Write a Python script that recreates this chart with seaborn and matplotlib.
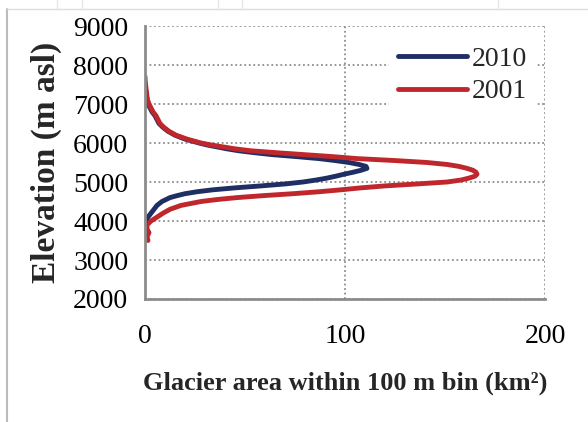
import matplotlib
matplotlib.use("Agg")
import matplotlib.pyplot as plt
import matplotlib.lines as mlines
import seaborn as sns
import pandas as pd

# --- data: glacier area (km2) per elevation bin ---
elev_2010 = [3900, 4000, 4100, 4200, 4300, 4400, 4500, 4600, 4650, 4700,
             4750, 4800, 4850, 4900, 4950, 5000, 5050, 5100, 5150, 5200,
             5250, 5300, 5350, 5400, 5450, 5500, 5550, 5600, 5650, 5700,
             5750, 5800, 5850, 5900, 5950, 6000, 6100, 6200, 6300, 6400,
             6500, 6600, 6700, 6800, 6900, 7000, 7100, 7200, 7300]
area_2010 = [0, 0.5, 1.5, 3, 4.5, 6, 8.5, 12.5, 16, 20,
             26, 34, 45, 58, 70, 79, 85.5, 91, 95.5, 99.5,
             104, 108, 111, 110.5, 107, 102, 95, 87, 76, 64,
             55, 47, 41, 36, 31, 27, 20, 15, 11.5, 9,
             7, 6, 5, 3.5, 2.5, 1.5, 1, 0.5, 0]

elev_2001 = [3500, 3600, 3700, 3800, 3900, 4000, 4100, 4200, 4300, 4400,
             4500, 4550, 4600, 4650, 4700, 4750, 4800, 4850, 4900, 4950,
             5000, 5050, 5100, 5150, 5200, 5250, 5300, 5350, 5400, 5450,
             5500, 5550, 5600, 5650, 5700, 5750, 5800, 5850, 5900, 5950,
             6000, 6100, 6200, 6300, 6400, 6500, 6600, 6700, 6800, 6900,
             7000, 7100, 7200, 7300, 7400, 7500, 7600, 7700]
area_2001 = [1.5, 1, 2, 1, 1, 3, 6, 9, 12.5, 18,
             28, 36, 46, 59, 74, 87, 98, 108, 120, 136,
             151, 158, 162, 165, 166, 165.5, 164, 161, 157, 151,
             141, 125, 106, 94, 80, 66, 53, 45, 39, 33,
             28, 21, 15.5, 12, 9.5, 7.5, 6.5, 5.5, 4, 3,
             2, 1.3, 1, 0.8, 0.5, 0.3, 0.1, 0]

years = ["2010", "2001"]
colors = {"2010": "#1f2e63", "2001": "#c0272d"}

df = pd.concat([
    pd.DataFrame({"area": area_2010, "elev": elev_2010, "year": "2010"}),
    pd.DataFrame({"area": area_2001, "elev": elev_2001, "year": "2001"}),
])

sns.set_style("white")
plt.rcParams["font.family"] = ["Liberation Serif", "DejaVu Serif"]

fig = plt.figure(figsize=(5.88, 4.22), dpi=100)
ax = fig.add_axes([145 / 588, 1 - 299 / 422, 400 / 588, 273 / 422])

sns.lineplot(data=df, x="area", y="elev", hue="year", hue_order=years,
             palette=colors, sort=False, estimator=None, ax=ax, legend=False)
for line in ax.lines:
    line.set_linewidth(3.5)
    line.set_solid_joinstyle("round")
    line.set_solid_capstyle("round")

ax.set_xlim(0, 200)
ax.set_ylim(2000, 9000)
ax.set_xticks([0, 100, 200])
ax.set_yticks(range(2000, 9001, 1000))
ax.grid(True, linestyle=(0, (1, 1.5)), color="#8f8f8f", linewidth=1.3)
ax.set_axisbelow(True)

for s in ["top", "right"]:
    ax.spines[s].set_visible(False)
for s in ["left", "bottom"]:
    ax.spines[s].set_color("#8c8c8c")
    ax.spines[s].set_linewidth(2)

ax.tick_params(axis="both", colors="#8c8c8c", width=2, length=6,
               labelcolor="black", labelsize=20)
ax.tick_params(axis="y", pad=6)
ax.tick_params(axis="x", pad=12)

ax.set_ylabel("Elevation (m asl)", fontsize=24, fontweight="bold", labelpad=8)
ax.set_xlabel("Glacier area within 100 m bin (km²)", fontsize=19,
              fontweight="bold", labelpad=16)

handles = [mlines.Line2D([], [], color=colors[y], linewidth=3.5,
                         solid_capstyle="round") for y in years]
leg = ax.legend(handles, years, loc="upper right", bbox_to_anchor=(0.975, 0.955),
                frameon=True, fontsize=20, handlelength=2.5, handletextpad=0.15,
                labelspacing=0.25, borderpad=0.3, borderaxespad=0.0)
leg.get_frame().set_facecolor("white")
leg.get_frame().set_edgecolor("white")
leg.get_frame().set_alpha(1)

# surrounding page frame lines
fig.add_artist(mlines.Line2D([7 / 588, 7 / 588], [0, 1 - 9 / 422],
                             color="#bbbbbb", linewidth=1.5))
fig.add_artist(mlines.Line2D([7 / 588, 1], [1 - 9 / 422, 1 - 9 / 422],
                             color="#dddddd", linewidth=1))
for px in [57, 82, 218, 242, 498]:
    fig.add_artist(mlines.Line2D([px / 588, px / 588], [1 - 9 / 422, 1],
                                 color="#e6e6e6", linewidth=1))

fig.savefig("out.png", dpi=100)
